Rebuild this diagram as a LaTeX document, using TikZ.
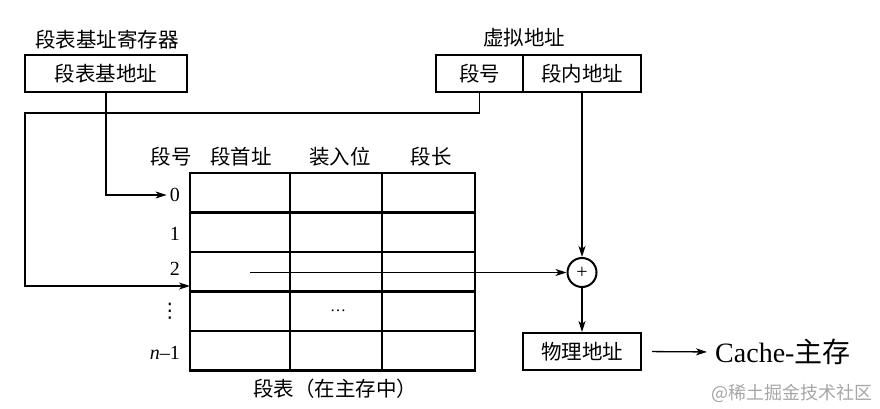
\documentclass[tikz,border=0pt]{standalone}
\usepackage{fontspec}
\setmainfont{Liberation Serif}
\newfontfamily\cjk{Noto Sans CJK SC}
\newfontfamily\symfont{DejaVu Sans}
\usetikzlibrary{arrows.meta}
\begin{document}
\begin{tikzpicture}[x=1pt,y=-1pt,
    lbl/.style={font=\cjk\fontsize{20.5}{20.5}\selectfont,inner sep=0pt},
    num/.style={font=\fontsize{20}{20}\selectfont,inner sep=0pt,anchor=east},
    box/.style={draw,line width=2pt,minimum height=37pt,inner sep=0pt,
      font=\cjk\fontsize{20.5}{20.5}\selectfont},
    wire/.style={line width=1.3pt},
    arr/.style={wire,-{Stealth[length=11pt,width=7pt,inset=3pt]}}]
      \useasboundingbox (0,0) rectangle (880,409);
      % registers and addresses
      \node[lbl] (reglbl) at (107,40) {段表基址寄存器};
      \node[box,minimum width=162pt] (base) at (106,73.5) {段表基地址};
      \node[lbl] (valbl) at (524,38) {虚拟地址};
      \node[box,minimum width=87pt] (seg) at (479.5,73.5) {段号};
      \node[box,minimum width=118pt] (off) at (582,73.5) {段内地址};
      % segment table
      \begin{scope}[line width=2.2pt]
        \draw (190,173) rectangle (475,370.5);
        \draw (290,173) -- (290,370.5);
        \draw (382,173) -- (382,370.5);
        \draw (190,212.5) -- (475,212.5);
        \draw (190,252) -- (475,252);
        \draw (190,291.5) -- (475,291.5);
        \draw (190,331) -- (475,331);
      \end{scope}
      \node[lbl] (h0) at (171,157) {段号};
      \node[lbl] (h1) at (241,157) {段首址};
      \node[lbl] (h2) at (340,157) {装入位};
      \node[lbl] (h3) at (431,157) {段长};
      \node[num] (r0) at (180,195) {0};
      \node[num] (r1) at (180,234) {1};
      \node[num] (r2) at (180,269) {2};
      \node[num,font=\symfont\fontsize{20}{20}\selectfont] (r3) at (180,311) {⋮};
      \node[num] (r4) at (180,353) {\textit{n}–1};
      \node[inner sep=0pt,font=\fontsize{16}{16}\selectfont] (dots) at (338,311) {…};
      \node[lbl] (cap) at (335,389) {段表（在主存中）};
      \coordinate (c1) at (25,113);
      \coordinate (t2in) at (190,286);
      \coordinate (t2mid) at (250,272.5);
      % adder and result
      \node[draw,circle,line width=2pt,minimum size=29pt,inner sep=0pt,
        font=\fontsize{20}{20}\selectfont] (sum) at (582,272.5) {+};
      \node[box,minimum width=118pt] (phys) at (582,351.5) {物理地址};
      \node[inner sep=0pt,anchor=west,font=\fontsize{28}{28}\selectfont] (cache) at (715,352)
        {Cache-{\cjk 主存}};
      \node[lbl,text=black!35,font=\cjk\fontsize{18}{18}\selectfont] (wm) at (792,393)
        {@稀土掘金技术社区};
      \begin{scope}[arr]
        \draw (base.south) |- ([xshift=-3pt]r0.west);
        \draw (seg.south) |- (c1) |- (t2in);
        \draw (t2mid) -- (sum.west);
        \draw (off.south) -- (sum.north);
        \draw (sum.south) -- (phys.north);
        \draw[shorten <=10pt,shorten >=8pt] (phys.east) -- (cache.west);
      \end{scope}
    \end{tikzpicture}
\end{document}
